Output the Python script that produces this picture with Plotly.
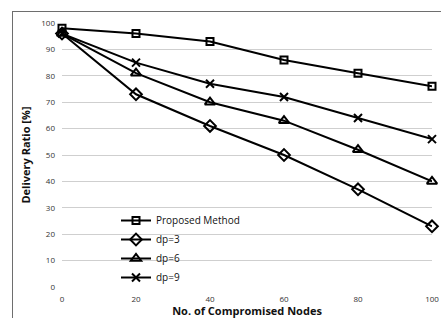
import plotly.graph_objects as go

nodes = [0, 20, 40, 60, 80, 100]
proposed = [98, 96, 93, 86, 81, 76]
dp3 = [96, 73, 61, 50, 37, 23]
dp6 = [96, 81, 70, 63, 52, 40]
dp9 = [96, 85, 77, 72, 64, 56]

series = [
    ("Proposed Method", proposed, "square-open", 7),
    ("dp=3", dp3, "diamond-open", 9),
    ("dp=6", dp6, "triangle-up-open", 9),
    ("dp=9", dp9, "x-thin-open", 8),
]

W, H = 441, 318
ML, MT = 13, 12
pw, ph = W - ML, H - MT


def px(x):
    return (x - ML) / pw


def py(y):
    return (H - y) / ph


fig = go.Figure()
for name, vals, sym, sz in series:
    fig.add_trace(go.Scatter(
        x=nodes, y=vals, name=name, mode="lines+markers",
        line=dict(color="black", width=2),
        marker=dict(symbol=sym, size=sz, color="black",
                    line=dict(color="black", width=2)),
        cliponaxis=False,
    ))

# empty trace on the frame axes (draws the outer left/top border)
fig.add_trace(go.Scatter(x=[], y=[], xaxis="x2", yaxis="y2",
                         showlegend=False, hoverinfo="skip"))

fig.update_layout(
    width=W, height=H,
    margin=dict(l=ML, r=0, t=MT, b=0, autoexpand=False),
    paper_bgcolor="white", plot_bgcolor="rgba(0,0,0,0)",
    font=dict(family="Open Sans", color="#222"),
    showlegend=True,
    legend=dict(x=px(116), y=py(206), xanchor="left", yanchor="top",
                bgcolor="rgba(0,0,0,0)", font=dict(size=10, color="#111"),
                tracegroupgap=0, itemwidth=30),
    xaxis=dict(domain=[px(62), px(432)], anchor="y",
               range=[0, 100], tickvals=nodes, showgrid=False, automargin=False,
               showline=False, zeroline=False, ticks="",
               tickfont=dict(size=8, color="#333"), ticklabelstandoff=6,
               title=dict(text="<b>No. of Compromised Nodes</b>",
                          font=dict(size=11, color="#111"), standoff=4)),
    yaxis=dict(domain=[py(287), py(23)], anchor="x",
               range=[0, 100], dtick=10, showgrid=True, gridcolor="#cfcfcf",
               gridwidth=1, zeroline=False, showline=False, ticks="", automargin=False,
               tickfont=dict(size=8, color="#333"), ticklabelstandoff=6,
               title=dict(text="<b>Delivery Ratio [%]</b>",
                          font=dict(size=11, color="#111"), standoff=8)),
    xaxis2=dict(domain=[0, 1], anchor="y2", side="top", range=[0, 1],
                showline=True, linecolor="#6e6e6e", linewidth=1,
                showgrid=False, zeroline=False, showticklabels=False,
                ticks="", automargin=False, fixedrange=True),
    yaxis2=dict(domain=[0, 1], anchor="x2", side="left", range=[0, 1],
                showline=True, linecolor="#6e6e6e", linewidth=1,
                showgrid=False, zeroline=False, showticklabels=False,
                ticks="", automargin=False, fixedrange=True),
)

fig.write_html(
    "out.html",
    config={"displayModeBar": False},
    post_script="document.body.style.margin='0';document.body.style.overflow='hidden';",
)
